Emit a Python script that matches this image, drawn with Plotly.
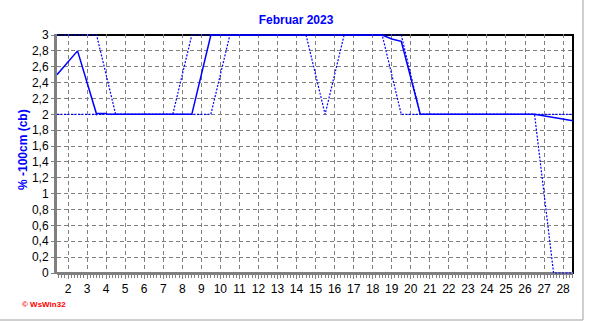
import plotly.graph_objects as go

# ---- data ----
avg_x = [1.42, 2.5, 3.5, 3.55, 4.0, 4.05, 8.5, 9.5, 18.5, 19.0, 19.5, 20.5, 26.5, 27.0, 27.5, 28.0, 28.52]
avg_y = [2.5, 2.8, 2.0, 2.01, 2.01, 2.0, 2.0, 3.0, 3.0, 2.95, 2.92, 2.0, 2.0, 1.98, 1.96, 1.94, 1.92]

max_x = [1.42, 3.5, 4.5, 7.5, 8.5, 19.5, 20.5, 28.52]
max_y = [3, 3, 2, 2, 3, 3, 2, 2]

min_x = [1.42, 9.5, 10.5, 14.5, 15.5, 16.5, 18.5, 19.5, 26.5, 27.5, 28.52]
min_y = [2, 2, 3, 3, 2, 3, 3, 2, 2, 0, 0]

x_tick_vals = list(range(2, 29))
x_tick_text = [str(d) for d in x_tick_vals]
y_tick_vals = [0, 0.2, 0.4, 0.6, 0.8, 1.0, 1.2, 1.4, 1.6, 1.8, 2.0, 2.2, 2.4, 2.6, 2.8, 3.0]
y_tick_text = ["0", "0,2", "0,4", "0,6", "0,8", "1", "1,2", "1,4", "1,6", "1,8",
               "2", "2,2", "2,4", "2,6", "2,8", "3"]

title_text = "Februar 2023"
y_title = "% -100cm (cb)"
credit = "© WsWin32"

BLUE = "#0000FF"
GRID = "#808080"
FONT = "Liberation Sans, Arial, sans-serif"

fig = go.Figure()
for xs, ys in ((max_x, max_y), (min_x, min_y)):
    fig.add_trace(go.Scatter(x=xs, y=ys, mode="lines",
                             line=dict(color=BLUE, width=1.2, dash="2px,1.5px"),
                             hoverinfo="skip"))
fig.add_trace(go.Scatter(x=avg_x, y=avg_y, mode="lines",
                         line=dict(color=BLUE, width=1.5), hoverinfo="skip"))

W, H = 592, 321
L, R, T, B = 57, 19, 34, 47
pw, ph = W - L - R, H - T - B
Y0, Y1 = -0.0126, 3.0126

def px_x(p):
    return (p - L) / pw

def px_y(p):
    return (H - B - p) / ph

fig.update_layout(
    width=W, height=H,
    margin=dict(l=L, r=R, t=T, b=B),
    paper_bgcolor="white", plot_bgcolor="white",
    showlegend=False,
    font=dict(family=FONT, size=12, color="black"),
    title=dict(text=f"<b>{title_text}</b>", x=0.5, xref="container",
               y=1 - 20 / H, yanchor="middle", yref="container",
               font=dict(family=FONT, size=12, color=BLUE)),
    xaxis=dict(range=[1.42, 28.52], tickmode="array", tickvals=x_tick_vals, ticktext=x_tick_text,
               showgrid=True, gridcolor=GRID, griddash="4px,3px", gridwidth=1,
               showline=False,
               ticks="outside", ticklen=4, tickcolor=GRID, tickwidth=1,
               minor=dict(ticks="outside", tick0=2, dtick=1 / 6, ticklen=3, tickcolor=GRID,
                          showgrid=False),
               zeroline=False, tickfont=dict(size=12, color="black"), fixedrange=True),
    yaxis=dict(range=[Y0, Y1], tickmode="array", tickvals=y_tick_vals, ticktext=y_tick_text,
               showgrid=True, gridcolor=GRID, griddash="4px,3px", gridwidth=1,
               showline=True, linecolor=GRID, linewidth=3,
               ticks="outside", ticklen=3, tickcolor=GRID, tickwidth=1,
               zeroline=True, zerolinecolor=GRID, zerolinewidth=3,
               tickfont=dict(size=12, color="black"), fixedrange=True),
    shapes=[
        dict(type="line", xref="paper", yref="paper", x0=0, x1=1, y0=px_y(35), y1=px_y(35),
             line=dict(color="black", width=2), layer="below"),
        dict(type="line", xref="paper", yref="paper", x0=1, x1=1, y0=px_y(274), y1=px_y(34),
             line=dict(color="black", width=2), layer="below"),
        dict(type="line", xref="paper", yref="paper", x0=px_x(583), x1=px_x(583),
             y0=px_y(0), y1=px_y(320), line=dict(color="#a0a0a0", width=1)),
        dict(type="line", xref="paper", yref="paper", x0=px_x(0), x1=px_x(583),
             y0=px_y(320), y1=px_y(320), line=dict(color="#a0a0a0", width=1)),
    ],
    annotations=[
        dict(text=f"<b>{y_title}</b>", xref="paper", yref="paper", x=px_x(23), y=px_y(150),
             textangle=-90, showarrow=False, font=dict(family=FONT, size=12, color=BLUE),
             xanchor="center", yanchor="middle"),
        dict(text=f"<b>{credit}</b>", xref="paper", yref="paper", x=px_x(20), y=px_y(304),
             showarrow=False, font=dict(family=FONT, size=8, color="red"),
             xanchor="left", yanchor="middle"),
    ],
)

fig.write_html("out.html")
